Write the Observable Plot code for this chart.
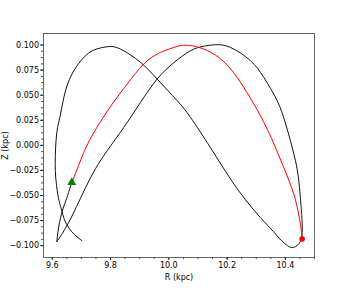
<!DOCTYPE html>
<html>
<head>
<meta charset="utf-8">
<script src="https://cdn.jsdelivr.net/npm/d3@7"></script>
<script src="https://cdn.jsdelivr.net/npm/@observablehq/plot@0.6"></script>
<style>
  html, body { margin: 0; padding: 0; background: #fff; }
  svg { display: block; }
</style>
</head>
<body>
<div id="chart"></div>
<script>
// Backward (black) orbit, R and Z in kpc (piece A ends at the cusp, piece B runs from the cusp to the start point)
const blackR = [9.7015, 9.6765, 9.6559, 9.6405, 9.6329, 9.6233, 9.6148, 9.6106, 9.6106, 9.6130, 9.6182, 9.6285, 9.6456, 9.6741, 9.7084, 9.7427, 9.7887, 9.8343, 9.9029, 9.9602, 10.0288, 10.0744, 10.1430, 10.2117, 10.2631, 10.3146, 10.3592, 10.3866, 10.4072, 10.4209, 10.4346, 10.4466, 10.4545, 10.4576, 10.4580, 10.4563, 10.4542, 10.4460, 10.4346, 10.4175, 10.3986, 10.3719, 10.3259, 10.2803, 10.2117, 10.1602, 10.1190, 10.0744, 10.0172, 9.9602, 9.9029, 9.8456, 9.7887, 9.7485, 9.7142, 9.6834, 9.6559, 9.6319, 9.6158, 9.6192, 9.6250, 9.6329, 9.6405, 9.6525, 9.6672];
const blackZ = [-0.0950, -0.0890, -0.0818, -0.0731, -0.0651, -0.0552, -0.0402, -0.0253, -0.0103, 0.0046, 0.0176, 0.0312, 0.0545, 0.0744, 0.0876, 0.0950, 0.0983, 0.0960, 0.0827, 0.0661, 0.0445, 0.0279, -0.0023, -0.0335, -0.0542, -0.0721, -0.0860, -0.0950, -0.1000, -0.1018, -0.1010, -0.0980, -0.0935, -0.0870, -0.0801, -0.0702, -0.0618, -0.0352, -0.0153, 0.0046, 0.0236, 0.0445, 0.0677, 0.0844, 0.0976, 0.1003, 0.0988, 0.0943, 0.0824, 0.0661, 0.0428, 0.0179, -0.0053, -0.0233, -0.0422, -0.0611, -0.0771, -0.0890, -0.0960, -0.0870, -0.0771, -0.0671, -0.0601, -0.0502, -0.0369];
const blackPiece = blackR.map((_, i) => (i <= 58 ? "A" : "B"));

// Forward (red) orbit
const redR = [9.6672, 9.6902, 9.7108, 9.7348, 9.7623, 9.8058, 9.8573, 9.9142, 9.9715, 10.0288, 10.0500, 10.0750, 10.1100, 10.1600, 10.2117, 10.2569, 10.3033, 10.3437, 10.3763, 10.4038, 10.4288, 10.4432, 10.4525, 10.4576];
const redZ = [-0.0369, -0.0203, -0.0053, 0.0086, 0.0221, 0.0412, 0.0611, 0.0811, 0.0926, 0.0986, 0.0998, 0.0995, 0.0970, 0.0900, 0.0764, 0.0580, 0.0355, 0.0126, -0.0093, -0.0287, -0.0485, -0.0651, -0.0801, -0.0933];

const startPoint = [{R: 9.6672, Z: -0.0369}];
const endPoint = [{R: 10.4576, Z: -0.0933}];

const xMajor = [9.6, 9.8, 10.0, 10.2, 10.4];
const xMinor = d3.range(9.6, 10.501, 0.05);
const yMajor = [-0.100, -0.075, -0.050, -0.025, 0.000, 0.025, 0.050, 0.075, 0.100];
const yMinor = d3.range(-0.1, 0.1001, 0.00625);

// piece B repeats the cusp point so the two pieces join
const black = [];
blackR.forEach((r, i) => {
  black.push({R: r, Z: blackZ[i], piece: blackPiece[i]});
  if (i === 58) black.push({R: r, Z: blackZ[i], piece: "B"});
});
const red = redR.map((r, i) => ({R: r, Z: redZ[i]}));

const fmtY = d3.format(".3f");
const fmtX = d3.format(".1f");

const chart = Plot.plot({
  width: 349,
  height: 289,
  marginLeft: 43,
  marginRight: 35,
  marginTop: 33,
  marginBottom: 32,
  style: {fontFamily: "DejaVu Sans", fontSize: "8px", background: "#fff", color: "#000"},
  x: {domain: [9.570, 10.500]},
  y: {domain: [-0.1118, 0.1115]},
  marks: [
    Plot.axisX(xMinor, {tickSize: 2, text: null, label: null, stroke: "#000", strokeWidth: 0.7}),
    Plot.axisX(xMajor, {tickSize: 3, tickPadding: 2, tickFormat: fmtX, stroke: "#000", strokeWidth: 0.8,
      label: "R (kpc)", labelAnchor: "center", labelArrow: "none", labelOffset: 22}),
    Plot.axisY(yMinor, {tickSize: 2, text: null, label: null, stroke: "#000", strokeWidth: 0.7}),
    Plot.axisY(yMajor, {tickSize: 3, tickPadding: 1.5, tickFormat: fmtY, stroke: "#000", strokeWidth: 0.8,
      label: "Z (kpc)", labelAnchor: "center", labelArrow: "none", labelOffset: 41}),
    Plot.frame({stroke: "#444", strokeWidth: 0.8}),
    Plot.line(black, {x: "R", y: "Z", z: "piece", stroke: "#111", strokeWidth: 1, curve: "natural"}),
    Plot.line(red, {x: "R", y: "Z", stroke: "red", strokeWidth: 1, curve: "natural"}),
    Plot.dot(startPoint, {x: "R", y: "Z", symbol: "triangle", fill: "green", r: 3.3}),
    Plot.dot(endPoint, {x: "R", y: "Z", fill: "red", r: 2.8})
  ]
});
document.getElementById("chart").appendChild(chart);
</script>
</body>
</html>
